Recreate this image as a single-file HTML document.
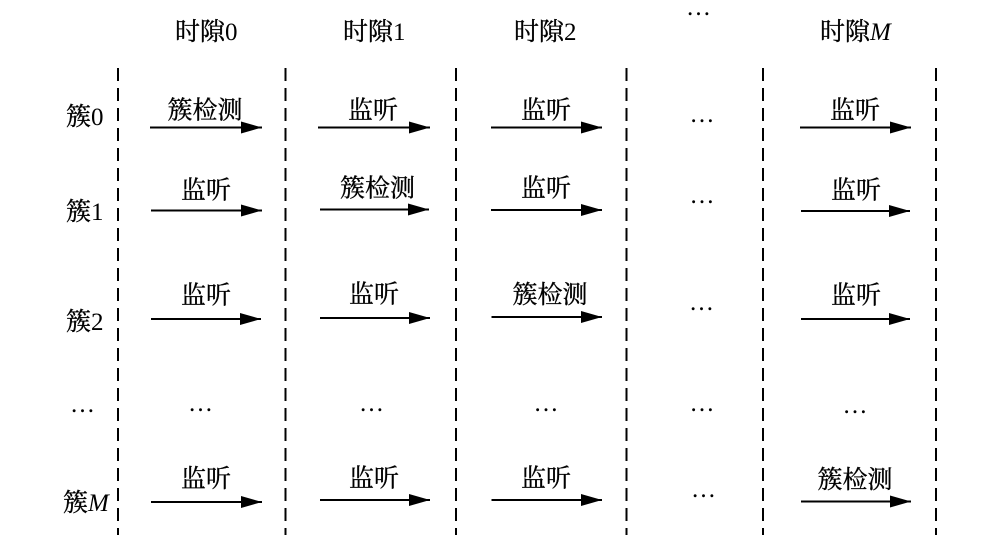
<!DOCTYPE html>
<html>
<head>
<meta charset="utf-8">
<style>
  html, body { margin: 0; padding: 0; background: #ffffff; }
  body { width: 1000px; height: 535px; overflow: hidden; }
  svg { display: block; }
  text { font-family: "Liberation Serif", "Noto Serif CJK SC", serif; font-size: 25px; fill: #000; }
  .c { font-family: "Noto Serif CJK SC", "Noto Serif CJK JP", serif; stroke: #000; stroke-width: 0.35px; }
  .it { font-style: italic; }
</style>
</head>
<body>
<svg width="1000" height="535" viewBox="0 0 1000 535" xmlns="http://www.w3.org/2000/svg">
  <defs>
    <marker id="ah" markerUnits="userSpaceOnUse" markerWidth="22" markerHeight="14" refX="21" refY="6" orient="auto">
      <path d="M0,0 L21,6 L0,12 Z" fill="#000"/>
    </marker>
  </defs>

  <!-- dashed separators -->
  <g stroke="#000" stroke-width="2" stroke-dasharray="13 7" fill="none">
    <line x1="118" y1="68" x2="118" y2="535"/>
    <line x1="285.5" y1="68" x2="285.5" y2="535"/>
    <line x1="456" y1="68" x2="456" y2="535"/>
    <line x1="626.5" y1="68" x2="626.5" y2="535"/>
    <line x1="763" y1="68" x2="763" y2="535"/>
    <line x1="936" y1="68" x2="936" y2="535"/>
  </g>

  <!-- column headers -->
  <text x="175" y="40"><tspan class="c">时隙</tspan>0</text>
  <text x="343" y="40"><tspan class="c">时隙</tspan>1</text>
  <text x="514" y="40"><tspan class="c">时隙</tspan>2</text>
  <text x="698.5" y="15" text-anchor="middle">…</text>
  <text x="820" y="40"><tspan class="c">时隙</tspan><tspan class="it">M</tspan></text>

  <!-- row labels -->
  <text x="66" y="125"><tspan class="c">簇</tspan>0</text>
  <text x="66" y="220"><tspan class="c">簇</tspan>1</text>
  <text x="66" y="330"><tspan class="c">簇</tspan>2</text>
  <text x="82.5" y="412" text-anchor="middle">…</text>
  <text x="63" y="511"><tspan class="c">簇</tspan><tspan class="it">M</tspan></text>

  <!-- arrows -->
  <g stroke="#000" stroke-width="2" fill="none" marker-end="url(#ah)">
    <line x1="150" y1="127.5" x2="262" y2="127.5"/>
    <line x1="318" y1="127.5" x2="430" y2="127.5"/>
    <line x1="491" y1="127.5" x2="602" y2="127.5"/>
    <line x1="800" y1="127.5" x2="911" y2="127.5"/>
    <line x1="151" y1="210.5" x2="262" y2="210.5"/>
    <line x1="320" y1="209.5" x2="429" y2="209.5"/>
    <line x1="491" y1="210" x2="602" y2="210"/>
    <line x1="801" y1="211" x2="910" y2="211"/>
    <line x1="151" y1="319" x2="261" y2="319"/>
    <line x1="320" y1="318" x2="430" y2="318"/>
    <line x1="491.5" y1="317" x2="602" y2="317"/>
    <line x1="801" y1="319" x2="910" y2="319"/>
    <line x1="151" y1="502" x2="262" y2="502"/>
    <line x1="320" y1="500" x2="430" y2="500"/>
    <line x1="491.5" y1="500" x2="602" y2="500"/>
    <line x1="801" y1="501.5" x2="911" y2="501.5"/>
  </g>

  <!-- labels row 0 -->
  <text class="c" x="205" y="118.5" text-anchor="middle">簇检测</text>
  <text class="c" x="373" y="118.5" text-anchor="middle">监听</text>
  <text class="c" x="546" y="118.5" text-anchor="middle">监听</text>
  <text class="c" x="855" y="118.5" text-anchor="middle">监听</text>
  <text x="702" y="122" text-anchor="middle">…</text>

  <!-- labels row 1 -->
  <text class="c" x="206" y="198.5" text-anchor="middle">监听</text>
  <text class="c" x="377.5" y="196.5" text-anchor="middle">簇检测</text>
  <text class="c" x="546" y="196.5" text-anchor="middle">监听</text>
  <text class="c" x="856" y="198.5" text-anchor="middle">监听</text>
  <text x="702" y="203" text-anchor="middle">…</text>

  <!-- labels row 2 -->
  <text class="c" x="206" y="303.5" text-anchor="middle">监听</text>
  <text class="c" x="374" y="302.5" text-anchor="middle">监听</text>
  <text class="c" x="550" y="303" text-anchor="middle">簇检测</text>
  <text class="c" x="856" y="303.5" text-anchor="middle">监听</text>
  <text x="701.5" y="310" text-anchor="middle">…</text>

  <!-- dots row -->
  <text x="200.5" y="411" text-anchor="middle">…</text>
  <text x="371.5" y="411" text-anchor="middle">…</text>
  <text x="546" y="411" text-anchor="middle">…</text>
  <text x="702" y="411" text-anchor="middle">…</text>
  <text x="855" y="413" text-anchor="middle">…</text>

  <!-- labels row M -->
  <text class="c" x="206" y="487" text-anchor="middle">监听</text>
  <text class="c" x="374" y="486.5" text-anchor="middle">监听</text>
  <text class="c" x="546" y="486.5" text-anchor="middle">监听</text>
  <text class="c" x="855" y="488" text-anchor="middle">簇检测</text>
  <text x="703.5" y="497" text-anchor="middle">…</text>
</svg>
</body>
</html>
